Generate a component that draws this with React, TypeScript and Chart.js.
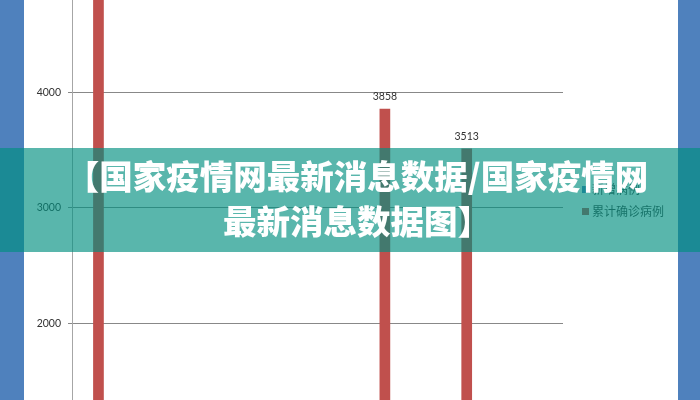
import React, { useEffect, useRef } from "react";
import { Chart, registerables } from "chart.js";

Chart.register(...registerables);

const categories = ["1", "2", "3", "4", "5", "6", "7", "8", "9", "10", "11", "12"];
const seriesNames = ["新增病例", "累计确诊病例"];
const newCases: (number | null)[] = [null, null, null, null, null, null, null, null, null, null, null, null];
const totalCases: (number | null)[] = [5000, null, null, null, null, null, null, 3858, null, 3513, null, null];
const yTicks = [2000, 3000, 4000];
const bannerLines = ["【国家疫情网最新消息数据/国家疫情网", "最新消息数据图】"];

const seriesColors = ["#4F81BD", "#C0504D"];

const valueLabels = {
  id: "valueLabels",
  afterDatasetsDraw(chart: any) {
    const ctx = chart.ctx;
    const meta = chart.getDatasetMeta(1);
    ctx.save();
    ctx.font = "10.5px Lato";
    ctx.fillStyle = "#333333";
    ctx.textAlign = "center";
    ctx.textBaseline = "alphabetic";
    meta.data.forEach((bar: any, i: number) => {
      const v = totalCases[i];
      if (v == null) return;
      ctx.fillText(String(v), bar.x, bar.y - 9);
    });
    ctx.restore();
  },
};

const sideLegend = {
  id: "sideLegend",
  afterDraw(chart: any) {
    const ctx = chart.ctx;
    const x0 = chart.chartArea.right + 19;
    const yStart = 189;
    const step = 22;
    ctx.save();
    ctx.font = "12px 'Noto Sans CJK SC'";
    ctx.textBaseline = "middle";
    ctx.textAlign = "left";
    chart.data.datasets.forEach((ds: any, i: number) => {
      const y = yStart + i * step;
      ctx.fillStyle = ds.backgroundColor;
      ctx.fillRect(x0, y - 3, 7, 7);
      ctx.fillStyle = "#404040";
      ctx.fillText(ds.label, x0 + 10, y);
    });
    ctx.restore();
  },
};

export default function App() {
  const canvasRef = useRef<HTMLCanvasElement | null>(null);

  useEffect(() => {
    if (!canvasRef.current) return;
    const chart = new Chart(canvasRef.current, {
      type: "bar",
      data: {
        labels: categories,
        datasets: [
          { label: seriesNames[0], data: newCases, backgroundColor: seriesColors[0] },
          { label: seriesNames[1], data: totalCases, backgroundColor: seriesColors[1] },
        ],
      },
      options: {
        animation: false,
        responsive: false,
        devicePixelRatio: 1,
        layout: { padding: { left: 0, right: 115, top: 0, bottom: 0 } },
        datasets: {
          bar: { categoryPercentage: 0.587, barPercentage: 0.89 },
        },
        plugins: {
          legend: { display: false },
          tooltip: { enabled: false },
          title: { display: false },
        },
        scales: {
          x: {
            display: false,
          },
          y: {
            min: 1336,
            max: 4799,
            afterBuildTicks(scale: any) {
              scale.ticks = yTicks.map((v) => ({ value: v }));
            },
            afterFit(scale: any) {
              scale.width = 48;
              scale.paddingTop = 0;
              scale.paddingBottom = 0;
            },
            ticks: {
              padding: 7,
              color: "#333333",
              font: { family: "Lato", size: 10.5 },
              callback: (v: any) => String(v),
            },
            grid: {
              color: "#888888",
              lineWidth: 1,
              tickLength: 4,
              drawTicks: true,
            },
            border: { display: true, color: "#a6a6a6", width: 1 },
          },
        },
      } as any,
      plugins: [valueLabels, sideLegend],
    });
    return () => chart.destroy();
  }, []);

  return (
    <div
      style={{
        position: "fixed",
        left: 0,
        top: 0,
        width: 700,
        height: 400,
        background: "#4F81BD",
        overflow: "hidden",
      }}
    >
      <div style={{ position: "absolute", left: 24, top: 0, width: 654, height: 400, background: "#ffffff" }}>
        <canvas ref={canvasRef} width={654} height={400} style={{ display: "block", width: 654, height: 400 }} />
      </div>
      <div
        style={{
          position: "absolute",
          left: 0,
          top: 148,
          width: 700,
          height: 104,
          background: "rgba(0,143,128,0.65)",
          boxSizing: "border-box",
          paddingTop: 5,
          paddingLeft: 14,
          color: "#ffffff",
          fontFamily: "'Noto Sans CJK SC', sans-serif",
          fontWeight: 900,
          fontSize: 33.5,
          lineHeight: "44.5px",
          textAlign: "center",
          whiteSpace: "nowrap",
        }}
      >
        {bannerLines[0]}
        <br />
        {bannerLines[1]}
      </div>
    </div>
  );
}
